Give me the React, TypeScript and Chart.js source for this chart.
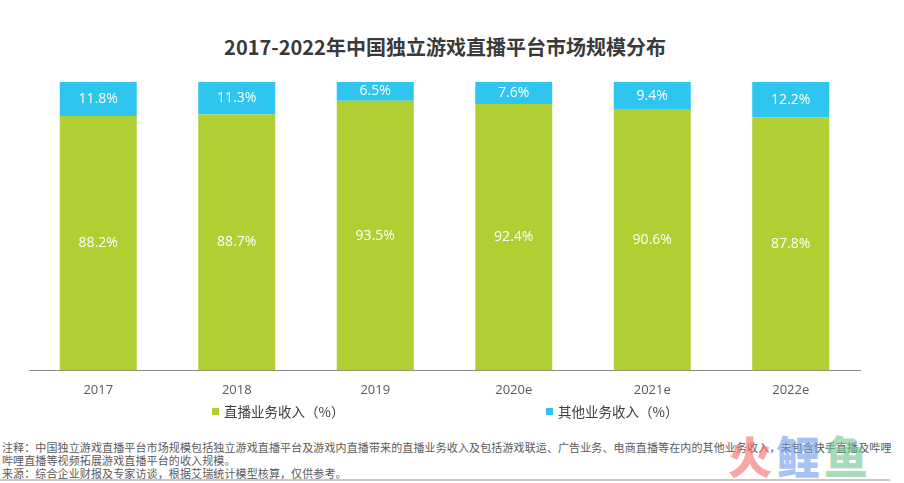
import React, { useEffect, useRef } from "react";
import { Chart, registerables } from "chart.js";

Chart.register(...registerables);

const TITLE = "2017-2022年中国独立游戏直播平台市场规模分布";
const categories = ["2017", "2018", "2019", "2020e", "2021e", "2022e"];
const liveRevenue = [88.2, 88.7, 93.5, 92.4, 90.6, 87.8];
const otherRevenue = [11.8, 11.3, 6.5, 7.6, 9.4, 12.2];
const seriesNames = ["直播业务收入（%）", "其他业务收入（%）"];
const GREEN = "#AFCF32";
const BLUE = "#2EC5EE";
const noteLines = [
  "注释：中国独立游戏直播平台市场规模包括独立游戏直播平台及游戏内直播带来的直播业务收入及包括游戏联运、广告业务、电商直播等在内的其他业务收入，未包含快手直播及哔哩",
  "哔哩直播等视频拓展游戏直播平台的收入规模。",
  "来源：综合企业财报及专家访谈，根据艾瑞统计模型核算，仅供参考。",
];

const NUM_FONT = '"Open Sans", "Noto Sans", sans-serif';
const CJK_FONT = '"Noto Sans CJK SC", "Noto Sans", sans-serif';

const valueLabels = {
  id: "valueLabels",
  afterDatasetsDraw(chart: any) {
    const ctx = chart.ctx;
    ctx.save();
    ctx.fillStyle = "#ffffff";
    ctx.font = `14px ${NUM_FONT}`;
    ctx.textAlign = "center";
    ctx.textBaseline = "middle";
    chart.data.datasets.forEach((ds: any, di: number) => {
      const meta = chart.getDatasetMeta(di);
      meta.data.forEach((el: any, i: number) => {
        const cy = (el.y + el.base) / 2;
        ctx.fillText(`${ds.data[i]}%`, el.x, cy);
      });
    });
    ctx.restore();
  },
};

export default function App() {
  const ref = useRef<HTMLCanvasElement>(null);
  useEffect(() => {
    document.body.style.margin = "0";
    const chart = new Chart(ref.current!, {
      type: "bar",
      data: {
        labels: categories,
        datasets: [
          { label: seriesNames[0], data: liveRevenue, backgroundColor: GREEN, borderWidth: 0 },
          { label: seriesNames[1], data: otherRevenue, backgroundColor: BLUE, borderWidth: 0 },
        ],
      },
      options: {
        responsive: false,
        animation: false,
        layout: { padding: { left: 29, right: 44, top: 82, bottom: 7 } },
        plugins: { legend: { display: false }, title: { display: false }, tooltip: { enabled: false } },
        datasets: { bar: { categoryPercentage: 1, barPercentage: 0.556 } },
        scales: {
          x: {
            stacked: true,
            grid: { display: false, drawTicks: false },
            border: { display: true, color: "#8a8a8a", width: 1 },
            ticks: { color: "#595959", font: { family: NUM_FONT, size: 13 }, padding: 12 },
          },
          y: { stacked: true, display: false, min: 0, max: 100 },
        },
      },
      plugins: [valueLabels],
    });
    return () => chart.destroy();
  }, []);

  return (
    <div style={{ position: "relative", width: 904, height: 483, overflow: "hidden", background: "#fff" }}>
      <div
        style={{
          position: "absolute", left: 0, top: 34, width: 890, textAlign: "center",
          fontFamily: CJK_FONT, fontWeight: 700, fontSize: 20, lineHeight: "26px", color: "#3a3a3a",
        }}
      >
        {TITLE}
      </div>
      <canvas ref={ref} width={904} height={417} style={{ position: "absolute", left: 0, top: 0 }} />
      {[{ x: 212, c: GREEN, t: seriesNames[0] }, { x: 546, c: BLUE, t: seriesNames[1] }].map((it) => (
        <React.Fragment key={it.t}>
          <div style={{ position: "absolute", left: it.x, top: 408, width: 7, height: 7, background: it.c }} />
          <div
            style={{
              position: "absolute", left: it.x + 12, top: 402, fontFamily: CJK_FONT, fontSize: 13.5,
              lineHeight: "18px", color: "#404040", whiteSpace: "nowrap",
            }}
          >
            {it.t}
          </div>
        </React.Fragment>
      ))}
      <div
        style={{
          position: "absolute", left: 2, top: 441, fontFamily: CJK_FONT, fontSize: 11, lineHeight: "13px",
          letterSpacing: "0.12px", color: "#5a5a5a", whiteSpace: "nowrap",
        }}
      >
        {noteLines.map((l) => (
          <div key={l}>{l}</div>
        ))}
      </div>
      <div style={{ position: "absolute", left: 0, top: 479, width: 890, height: 2, background: "#c8c8c8" }} />
      <div
        style={{
          position: "absolute", left: 728, top: 430, fontFamily: CJK_FONT, fontWeight: 900, fontSize: 44,
          lineHeight: "50px", whiteSpace: "nowrap", opacity: 0.6, letterSpacing: "4px",
        }}
      >
        <span style={{ color: "#F26B6B" }}>火</span>
        <span style={{ color: "#6E9BEA" }}>鲤</span>
        <span style={{ color: "#6CC58C" }}>鱼</span>
      </div>
    </div>
  );
}
